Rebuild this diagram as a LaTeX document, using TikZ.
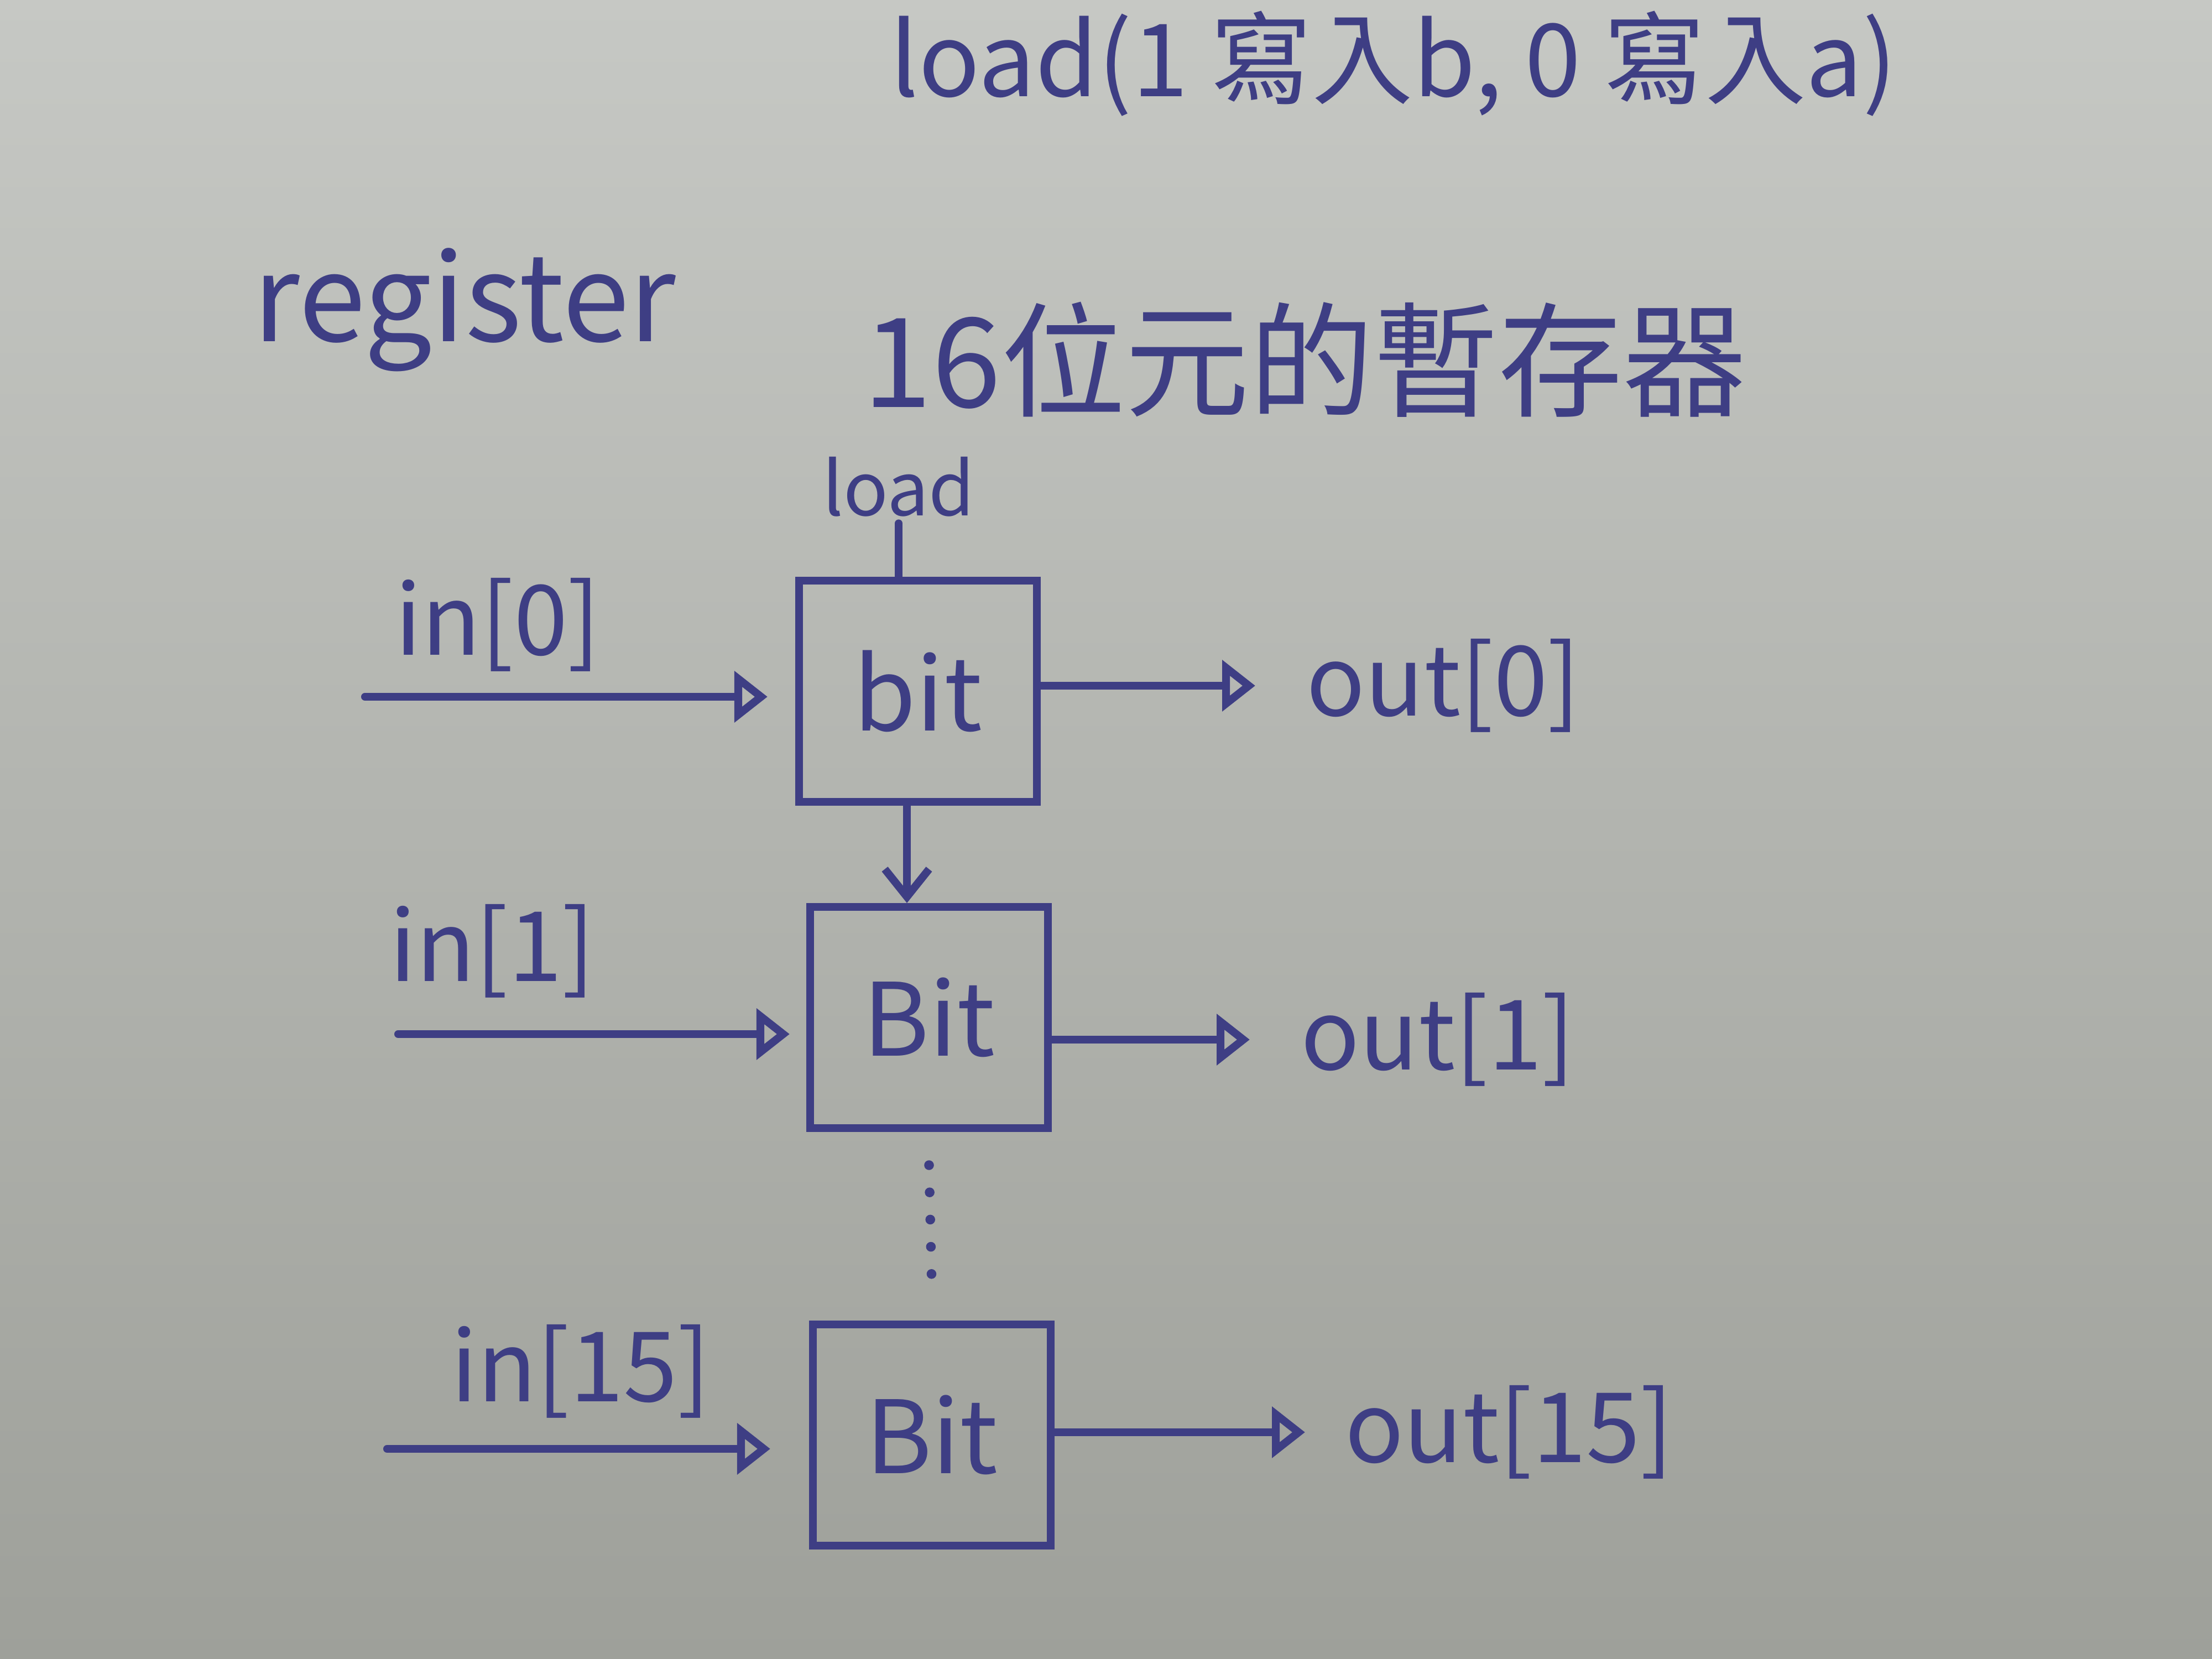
\documentclass[tikz,border=0pt]{standalone}
\usepackage{fontspec}
\setmainfont{Noto Sans CJK TC}
\usetikzlibrary{arrows.meta}
\definecolor{ink}{RGB}{62,62,132}
\definecolor{papertop}{RGB}{198,200,196}
\definecolor{paperbot}{RGB}{158,160,154}
\tikzset{
	pen/.style={draw=ink, line width=4pt, line cap=round},
	bitbox/.style={pen, minimum width=4.3cm, minimum height=4cm, text=ink, font=\fontsize{52}{60}\selectfont},
	lbl/.style={text=ink, font=\fontsize{50}{60}\selectfont},
	sig/.style={pen, -{Triangle[open, length=6mm, width=9mm, line width=4pt]}},
}
\begin{document}
\begin{tikzpicture}
	\shade[top color=papertop, bottom color=paperbot] (0,0) rectangle (40,30);
	\useasboundingbox (0,0) rectangle (40,30);
	% titles
	\node[lbl, font=\fontsize{52}{60}\selectfont] (note) at (25.2,28.85) {load(1 寫入b, 0 寫入a)};
	\node[lbl, font=\fontsize{62}{70}\selectfont] (title) at (8.4,24.4) {register};
	\node[lbl, font=\fontsize{64}{72}\selectfont] (titlezh) at (23.6,23.5) {16位元的暫存器};
	% bits
	\node[bitbox] (bit0) at (16.6,17.5) {bit};
	\node[bitbox] (bit1) at (16.8,11.6) {Bit};
	\node[bitbox] (bit15) at (16.85,4.05) {Bit};
	\node[lbl, font=\fontsize{38}{44}\selectfont] (load) at (16.25,21.2) {load};
	\draw[pen] (load.south) -- (load.south |- bit0.north);
	\draw[pen, -{Straight Barb[length=5mm, width=8mm]}] ([xshift=-2mm]bit0.south) -- ([xshift=-2mm]bit0.south |- bit1.north);
	\draw[pen, line width=5pt, dash pattern=on 0pt off 14pt] ([yshift=-6mm]bit1.south) -- ([yshift=6mm]bit15.north);
	% inputs
	\coordinate (in0) at (6.6,17.4);
	\coordinate (in1) at (7.2,11.3);
	\coordinate (in15) at (7.0,3.8);
	\node[lbl] (in0lbl) at (9.0,18.7) {in[0]};
	\node[lbl] (in1lbl) at (8.9,12.8) {in[1]};
	\node[lbl] (in15lbl) at (10.5,5.2) {in[15]};
	\draw[sig, shorten >=5mm] (in0) -- (in0 -| bit0.west);
	\draw[sig, shorten >=3mm] (in1) -- (in1 -| bit1.west);
	\draw[sig, shorten >=7mm] (in15) -- (in15 -| bit15.west);
	% outputs
	\coordinate (out0) at (22.7,17.6);
	\coordinate (out1) at (22.6,11.2);
	\coordinate (out15) at (23.6,4.1);
	\draw[sig] (bit0.east |- out0) -- (out0);
	\draw[sig] (bit1.east |- out1) -- (out1);
	\draw[sig] (bit15.east |- out15) -- (out15);
	\node[lbl, anchor=west] (out0lbl) at ([xshift=8mm]out0) {out[0]};
	\node[lbl, anchor=west] (out1lbl) at ([xshift=8mm]out1) {out[1]};
	\node[lbl, anchor=west] (out15lbl) at ([xshift=6mm]out15) {out[15]};
\end{tikzpicture}
\end{document}
